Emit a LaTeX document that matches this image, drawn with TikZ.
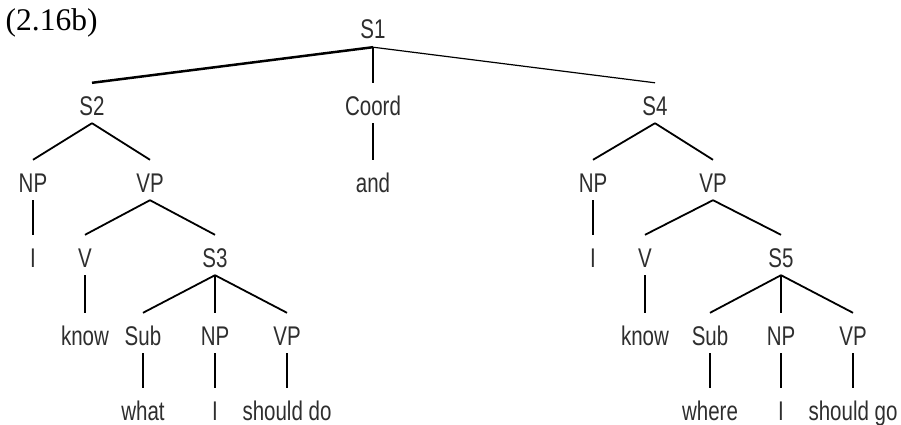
\documentclass[tikz,border=0pt]{standalone}
\usepackage{fontspec}
\newfontfamily\treefont{Liberation Sans}[FakeStretch=0.76]
\newfontfamily\numfont{Liberation Serif}
\definecolor{txt}{gray}{0.18}
\begin{document}
\begin{tikzpicture}[x=1pt,y=-1pt,
  t/.style={font=\treefont\fontsize{27}{30}\selectfont, anchor=base, inner sep=0pt,
            text height=20pt, text depth=0pt, text=txt},
  br/.style={line width=1.8pt},
  vt/.style={line width=1.1pt},
  thickbr/.style={line width=2.5pt},
  thinbr/.style={line width=1.2pt}]
\useasboundingbox (0,0) rectangle (901,425);
\node[font=\numfont\fontsize{31.5}{34}\selectfont, anchor=base west, inner sep=0pt] (lab) at (5.5,31) {(2.16b)};
% rows (baselines)
\node[t] (s1) at (373,39) {S1};
\node[t] (s2) at (92,115) {S2};
\node[t] (coord) at (373,115) {Coord};
\node[t] (s4) at (655,115) {S4};
\node[t] (np1) at (33,192) {NP};
\node[t] (vp1) at (150,192) {VP};
\node[t] (and) at (373,192) {and};
\node[t] (np2) at (593,192) {NP};
\node[t] (vp2) at (713,192) {VP};
\node[t] (i1) at (33,267) {I};
\node[t] (v1) at (85,267) {V};
\node[t] (s3) at (215,267) {S3};
\node[t] (i2) at (593,267) {I};
\node[t] (v2) at (645,267) {V};
\node[t] (s5) at (781,267) {S5};
\node[t] (know1) at (85,345) {know};
\node[t] (sub1) at (143,345) {Sub};
\node[t] (np3) at (215,345) {NP};
\node[t] (vp3) at (287,345) {VP};
\node[t] (know2) at (645,345) {know};
\node[t] (sub2) at (710,345) {Sub};
\node[t] (np4) at (781,345) {NP};
\node[t] (vp4) at (853,345) {VP};
\node[t] (what) at (143,420) {what};
\node[t] (i3) at (215,420) {I};
\node[t] (sdo) at (287,420) {should do};
\node[t] (where) at (710,420) {where};
\node[t] (i4) at (781,420) {I};
\node[t] (sgo) at (853,420) {should go};
% connectors
\newcommand{\edgeA}[3][br]{\draw[#1] ([yshift=-8pt]#2.south) -- ([yshift=12pt]#3.north);}
\edgeA[thickbr]{s1}{s2}
\edgeA[vt]{s1}{coord}
\edgeA[thinbr]{s1}{s4}
\edgeA[vt]{coord}{and}
\edgeA{s2}{np1}
\edgeA{s2}{vp1}
\edgeA[vt]{np1}{i1}
\edgeA{vp1}{v1}
\edgeA{vp1}{s3}
\edgeA[vt]{v1}{know1}
\edgeA{s3}{sub1}
\edgeA[vt]{s3}{np3}
\edgeA{s3}{vp3}
\edgeA[vt]{sub1}{what}
\edgeA[vt]{np3}{i3}
\edgeA[vt]{vp3}{sdo}
\edgeA{s4}{np2}
\edgeA{s4}{vp2}
\edgeA[vt]{np2}{i2}
\edgeA{vp2}{v2}
\edgeA{vp2}{s5}
\edgeA[vt]{v2}{know2}
\edgeA{s5}{sub2}
\edgeA[vt]{s5}{np4}
\edgeA{s5}{vp4}
\edgeA[vt]{sub2}{where}
\edgeA[vt]{np4}{i4}
\edgeA[vt]{vp4}{sgo}
\end{tikzpicture}
\end{document}
